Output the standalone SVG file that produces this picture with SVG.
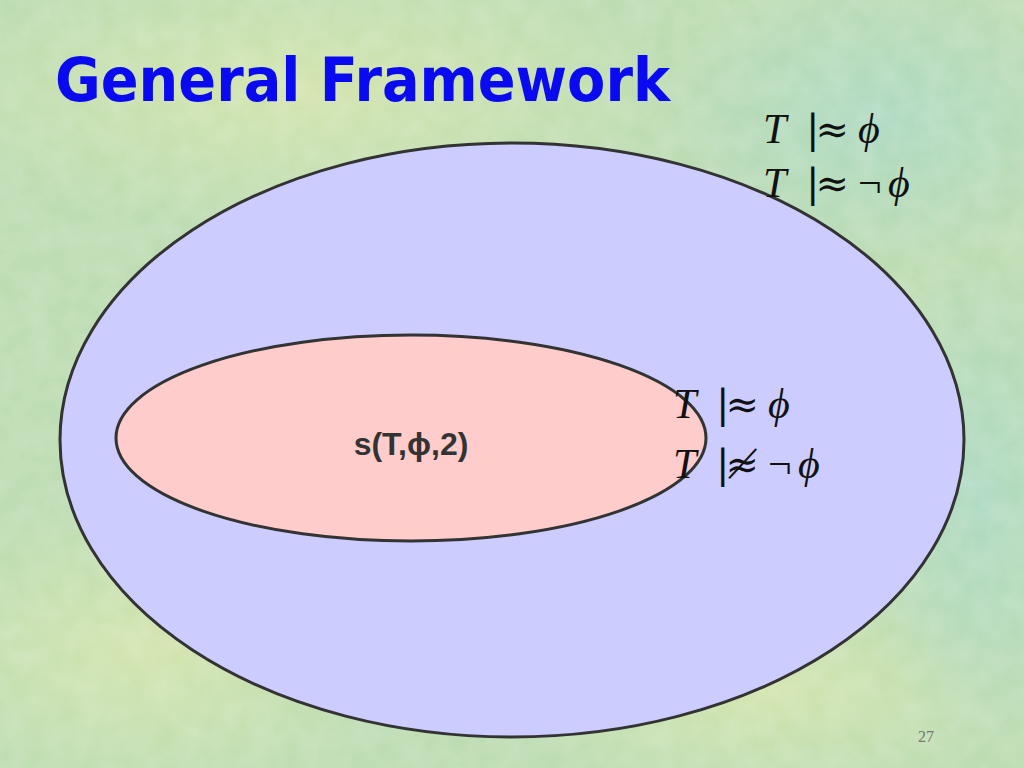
<svg xmlns="http://www.w3.org/2000/svg" width="1024" height="768" viewBox="0 0 1024 768">
<defs>
<radialGradient id="p1" cx="0.5" cy="0.5" r="0.5"><stop offset="0" stop-color="#d8e6ac" stop-opacity="0.8"/><stop offset="1" stop-color="#d8e6ac" stop-opacity="0"/></radialGradient>
<radialGradient id="p2" cx="0.5" cy="0.5" r="0.5"><stop offset="0" stop-color="#a8d8c8" stop-opacity="0.7"/><stop offset="1" stop-color="#a8d8c8" stop-opacity="0"/></radialGradient>
<filter id="tex" x="0" y="0" width="100%" height="100%">
<feTurbulence type="fractalNoise" baseFrequency="0.04" numOctaves="3" seed="4" result="n"/>
<feColorMatrix in="n" type="matrix" values="0 0 0 0 1  0 0 0 0 1  0 0 0 0 1  0 0 0 0.25 -0.05"/>
</filter>
</defs>
<style>
.outline{stroke:#333333;stroke-width:3}
.m{font-family:"Liberation Serif","DejaVu Serif",serif;font-size:42px;fill:#111}
.i{font-style:italic}
.rel{font-family:"DejaVu Serif",serif;font-size:40px;letter-spacing:-4px}
</style>
<g id="background">
<rect width="1024" height="768" fill="#bcdcb2"/>
<ellipse cx="300" cy="90" rx="380" ry="140" fill="url(#p1)"/>
<ellipse cx="880" cy="120" rx="220" ry="150" fill="url(#p2)"/>
<ellipse cx="150" cy="650" rx="260" ry="150" fill="url(#p1)"/>
<ellipse cx="760" cy="690" rx="260" ry="110" fill="url(#p1)"/>
<ellipse cx="980" cy="500" rx="120" ry="250" fill="url(#p2)"/>
<rect width="1024" height="768" filter="url(#tex)"/>
</g>
<g id="title">
<text x="55" y="101" font-family="DejaVu Sans, Verdana, sans-serif" font-weight="bold" font-size="60" fill="#0a0af0" textLength="615" lengthAdjust="spacingAndGlyphs">General Framework</text>
</g>
<g id="outer">
<ellipse cx="512" cy="440" rx="452" ry="297" fill="#ccccff" class="outline"/>
</g>
<g id="inner">
<ellipse cx="411" cy="438" rx="295" ry="103" fill="#ffcccc" class="outline"/>
<text x="411" y="455" text-anchor="middle" font-family="Liberation Sans, Arial, sans-serif" font-weight="bold" font-size="32" fill="#333333">s(T,ϕ,2)</text>
</g>
<g id="labels-top">
<text class="m" x="763" y="143"><tspan class="i">T</tspan><tspan x="806" class="rel">|≈</tspan><tspan x="858" class="i">ϕ</tspan></text>
<text class="m" x="763" y="197"><tspan class="i">T</tspan><tspan x="806" class="rel">|≈</tspan><tspan x="858">¬</tspan><tspan x="888" class="i">ϕ</tspan></text>
</g>
<g id="labels-mid">
<text class="m" x="673" y="418"><tspan class="i">T</tspan><tspan x="716" class="rel">|≈</tspan><tspan x="768" class="i">ϕ</tspan></text>
<text class="m" x="673" y="478"><tspan class="i">T</tspan><tspan x="716" class="rel">|≉</tspan><tspan x="768">¬</tspan><tspan x="798" class="i">ϕ</tspan></text>
</g>
<g id="page">
<text x="918" y="742" font-family="Liberation Serif, serif" font-size="16" fill="#777777">27</text>
</g>
</svg>
